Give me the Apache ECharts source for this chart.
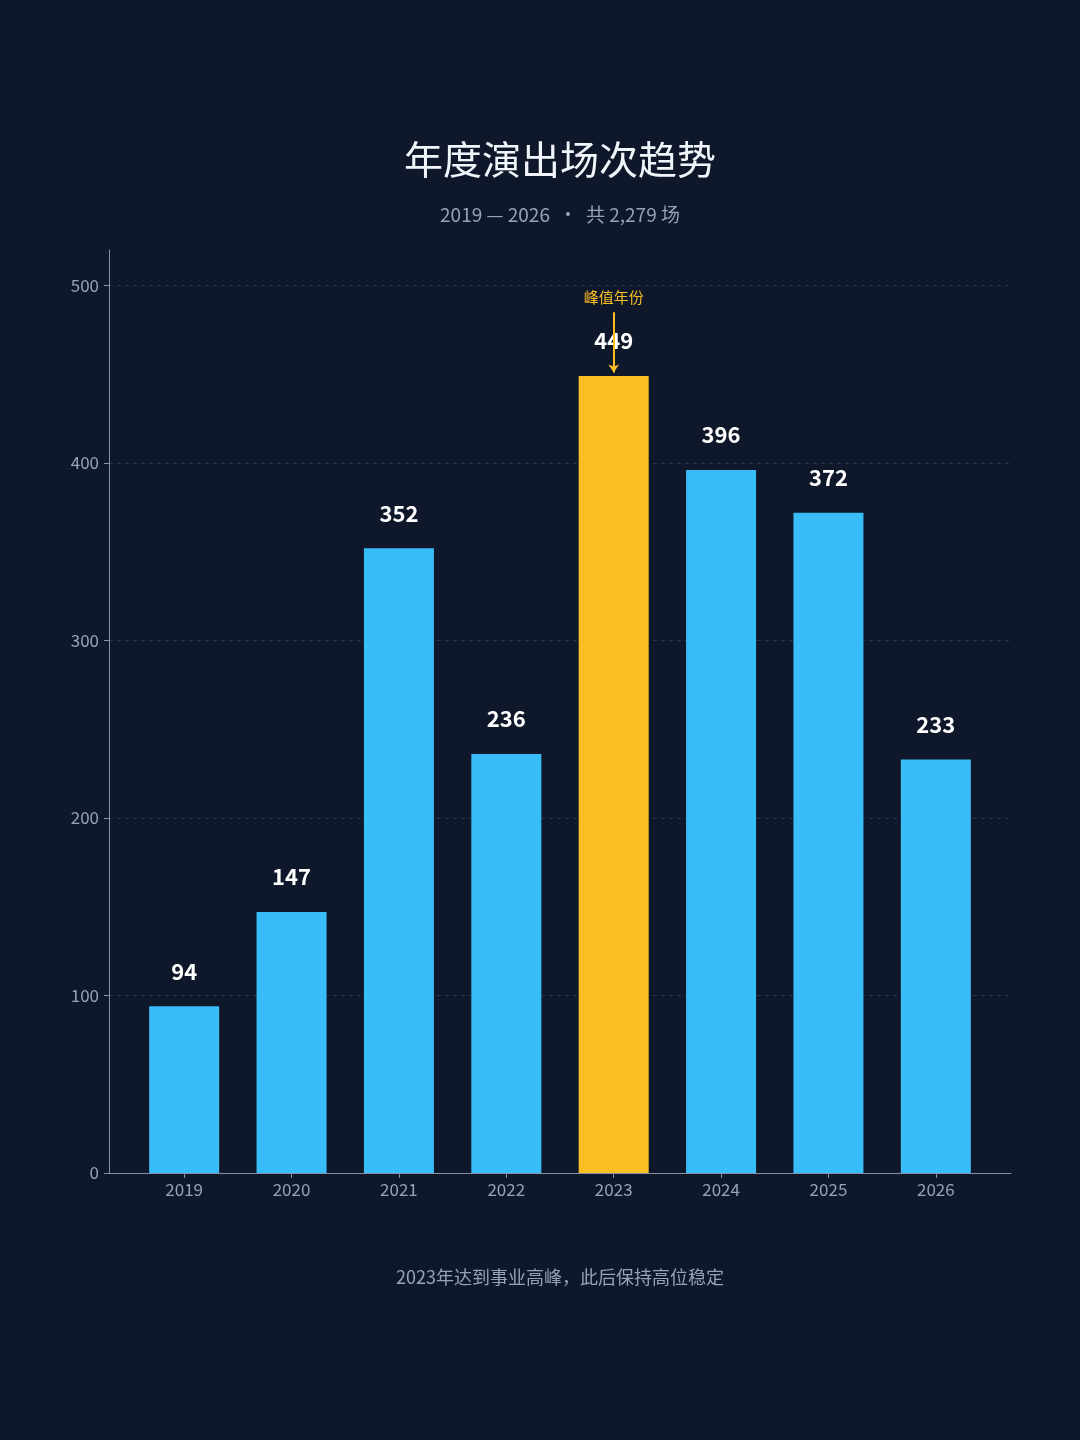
<!DOCTYPE html>
<html>
<head>
<meta charset="utf-8">
<script src="https://cdn.jsdelivr.net/npm/echarts@6/dist/echarts.min.js"></script>
<style>
  html, body { margin: 0; padding: 0; background: #0f172a; }
  #chart { width: 1080px; height: 1440px; }
</style>
</head>
<body>
<div id="chart"></div>
<script>
// 年度演出场次
const years = [2019, 2020, 2021, 2022, 2023, 2024, 2025, 2026];
const shows = [94, 147, 352, 236, 449, 396, 372, 233];
const yTicks = [0, 100, 200, 300, 400, 500];
const peakYear = 2023;

const FONT = '"Noto Sans CJK SC", "Noto Sans", sans-serif';
const total = shows.reduce((a, b) => a + b, 0);
const peakValue = shows[years.indexOf(peakYear)];

let chart = echarts.init(document.getElementById('chart'));
chart.setOption({
    backgroundColor: '#0f172a',
    title: [{
        text: '年度演出场次趋势',
        left: 555,
        textAlign: 'center',
        top: 135,
        textStyle: { color: '#f1f5f9', fontSize: 39, fontWeight: 'normal', fontFamily: FONT }
    }, {
        text: `${years[0]} — ${years[years.length - 1]}  ·  共 ${total.toLocaleString('en-US')} 场`,
        left: 555,
        textAlign: 'center',
        top: 200,
        textStyle: { color: '#94a3b8', fontSize: 19, fontWeight: 'normal', fontFamily: FONT }
    }, {
        text: '2023年达到事业高峰，此后保持高位稳定',
        left: 555,
        textAlign: 'center',
        top: 1263,
        textStyle: { color: '#94a3b8', fontSize: 18, fontWeight: 'normal', fontFamily: FONT }
    }],
    grid: { left: 109, right: 69, top: 250, bottom: 267 },
    xAxis: {
        type: 'value',
        min: 2018.3,
        max: 2026.7,
        splitLine: { show: false },
        axisLine: { show: true, lineStyle: { color: '#8791a5', width: 1 } },
        axisTick: { show: true, length: 5, customValues: years, lineStyle: { color: '#8791a5' } },
        axisLabel: {
            color: '#94a3b8', fontSize: 17, margin: 8, fontFamily: FONT,
            customValues: years, formatter: v => String(v)
        }
    },
    yAxis: {
        type: 'value',
        min: 0,
        max: 520,
        interval: 100,
        axisLine: { show: true, lineStyle: { color: '#8791a5', width: 1 } },
        axisTick: { show: true, length: 5, customValues: yTicks, lineStyle: { color: '#8791a5' } },
        axisLabel: { color: '#94a3b8', fontSize: 17, margin: 10, customValues: yTicks, fontFamily: FONT },
        splitLine: { show: true, lineStyle: { color: '#2a3549', type: [4, 4], width: 1 } }
    },
    series: [{
        type: 'bar',
        data: shows.map((v, i) => ({
            value: [years[i], v],
            itemStyle: { color: years[i] === peakYear ? '#fbbf24' : '#38bdf8' }
        })),
        barWidth: 70,
        label: {
            show: true,
            position: 'top',
            distance: 24,
            color: '#ffffff',
            fontSize: 22,
            fontWeight: 'bold',
            fontFamily: FONT,
            formatter: p => p.value[1]
        },
        markLine: {
            silent: true,
            symbol: ['none', 'arrow'],
            symbolSize: [8, 8],
            lineStyle: { color: '#fbbf24', width: 2, type: 'solid' },
            label: {
                show: true,
                position: 'start',
                distance: 7,
                formatter: '峰值年份',
                color: '#fbbf24',
                fontSize: 15,
                fontFamily: FONT
            },
            data: [[
                { coord: [peakYear, peakValue + 36] },
                { coord: [peakYear, peakValue + 2] }
            ]]
        }
    }]
});
</script>
</body>
</html>
